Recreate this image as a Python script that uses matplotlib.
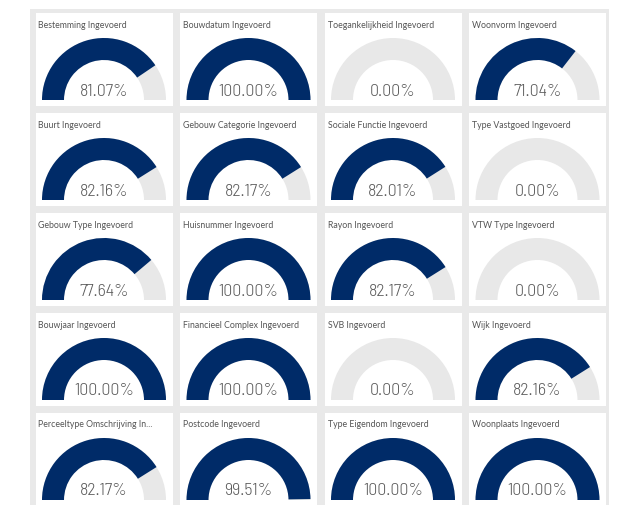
import matplotlib

matplotlib.use("Agg")
import matplotlib.pyplot as plt
from matplotlib.patches import Rectangle, Wedge

# tile titles, row by row (4 per row)
titles = [
    "Bestemming Ingevoerd", "Bouwdatum Ingevoerd", "Toegankelijkheid Ingevoerd", "Woonvorm Ingevoerd",
    "Buurt Ingevoerd", "Gebouw Categorie Ingevoerd", "Sociale Functie Ingevoerd", "Type Vastgoed Ingevoerd",
    "Gebouw Type Ingevoerd", "Huisnummer Ingevoerd", "Rayon Ingevoerd", "VTW Type Ingevoerd",
    "Bouwjaar Ingevoerd", "Financieel Complex Ingevoerd", "SVB Ingevoerd", "Wijk Ingevoerd",
    "Perceeltype Omschrijving In...", "Postcode Ingevoerd", "Type Eigendom Ingevoerd", "Woonplaats Ingevoerd",
]
# percentage filled
values = [
    81.07, 100.00, 0.00, 71.04,
    82.16, 82.17, 82.01, 0.00,
    77.64, 100.00, 82.17, 0.00,
    100.00, 100.00, 0.00, 82.16,
    82.17, 99.51, 100.00, 100.00,
]

W, H = 621, 506
NAVY = "#002B68"
TRACK = "#E8E8E8"
PANEL = "#E9E9E9"

fig = plt.figure(figsize=(W / 100, H / 100), dpi=100)
ax = fig.add_axes([0, 0, 1, 1])
ax.set_xlim(0, W)
ax.set_ylim(H, 0)
ax.set_aspect("equal")
ax.axis("off")

# grey canvas behind the tiles
ax.add_patch(Rectangle((30, 10), 579, H, color=PANEL, lw=0))

ncols = 4
tile_w, tile_h = 137, 93
r_out, r_in = 62, 40

for i, (title, val) in enumerate(zip(titles, values)):
    row, col = divmod(i, ncols)
    x0 = 35.5 + col * 144.5
    y0 = 14 + row * 100
    cx = x0 + tile_w / 2
    cy = y0 + 87
    ax.add_patch(Rectangle((x0, y0), tile_w, tile_h, color="white", lw=0))

    # y axis is inverted, so 180..360 is the upper half on screen
    ax.add_patch(Wedge((cx, cy), r_out, 180, 360, width=r_out - r_in,
                       color=TRACK, lw=0))
    if val > 0:
        ax.add_patch(Wedge((cx, cy), r_out, 180, 180 + 180 * val / 100,
                           width=r_out - r_in, color=NAVY, lw=0))

    ax.text(x0 + 3, y0 + 13.5, title, fontsize=6.3, color="#555555",
            family=["Lato", "Open Sans"], va="baseline", ha="left")
    ax.text(cx, y0 + 81.5, f"{val:.2f}%", fontsize=12.8, color="#5A5A5A",
            family=["Barlow Semi Condensed", "Roboto"], weight=300,
            va="baseline", ha="center")

fig.savefig("out.png", dpi=100, facecolor="white")
